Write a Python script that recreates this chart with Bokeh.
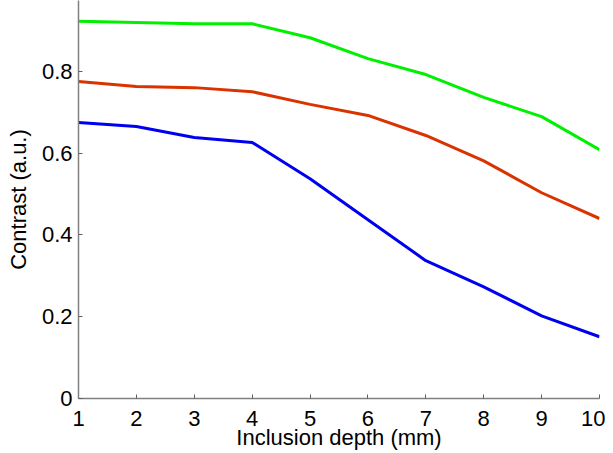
from bokeh.plotting import figure
from bokeh.models import Range1d, FixedTicker
from bokeh.embed import file_html
from bokeh.resources import INLINE

depth = [1, 2, 3, 4, 5, 6, 7, 8, 9, 10]
green_vals = [0.922, 0.919, 0.916, 0.916, 0.882, 0.831, 0.792, 0.736, 0.689, 0.608]
red_vals = [0.775, 0.763, 0.760, 0.750, 0.719, 0.692, 0.643, 0.581, 0.503, 0.440]
blue_vals = [0.675, 0.665, 0.638, 0.626, 0.537, 0.437, 0.337, 0.273, 0.202, 0.151]
x_ticks = [1, 2, 3, 4, 5, 6, 7, 8, 9, 10]
y_ticks = [0, 0.2, 0.4, 0.6, 0.8]

p = figure(width=605, height=453, output_backend="svg", toolbar_location=None,
           x_range=Range1d(1, 10), y_range=Range1d(0, 0.973),
           min_border_left=78, min_border_right=6, min_border_top=0, min_border_bottom=55)
p.outline_line_color = None
p.grid.visible = False
p.background_fill_color = "white"
p.border_fill_color = "white"

for vals, col in [(green_vals, "#00f000"), (red_vals, "#d93300"), (blue_vals, "#0000f0")]:
    p.line(depth, vals, line_color=col, line_width=3)

p.xaxis.ticker = FixedTicker(ticks=x_ticks)
p.yaxis.ticker = FixedTicker(ticks=y_ticks)
p.yaxis.major_label_overrides = {0: "0", 0.2: "0.2", 0.4: "0.4", 0.6: "0.6", 0.8: "0.8"}
for ax in (p.xaxis, p.yaxis):
    ax.axis_line_color = "#808080"
    ax.axis_line_width = 1.5
    ax.major_tick_line_color = "#606060"
    ax.major_tick_in = 4
    ax.major_tick_out = 0
    ax.minor_tick_line_color = None
    ax.major_label_text_font = "Liberation Sans"
    ax.major_label_text_font_size = "22px"
    ax.major_label_text_color = "black"
    ax.axis_label_text_font = "Liberation Sans"
    ax.axis_label_text_font_size = "22px"
    ax.axis_label_text_font_style = "normal"
    ax.axis_label_text_color = "black"
p.xaxis.axis_label = "Inclusion depth (mm)"
p.yaxis.axis_label = "Contrast (a.u.)"
p.xaxis.major_label_standoff = 12
p.xaxis.axis_label_standoff = -4
p.yaxis.major_label_standoff = 6
p.yaxis.axis_label_standoff = 8

open("out.html", "w").write(file_html(p, INLINE))
